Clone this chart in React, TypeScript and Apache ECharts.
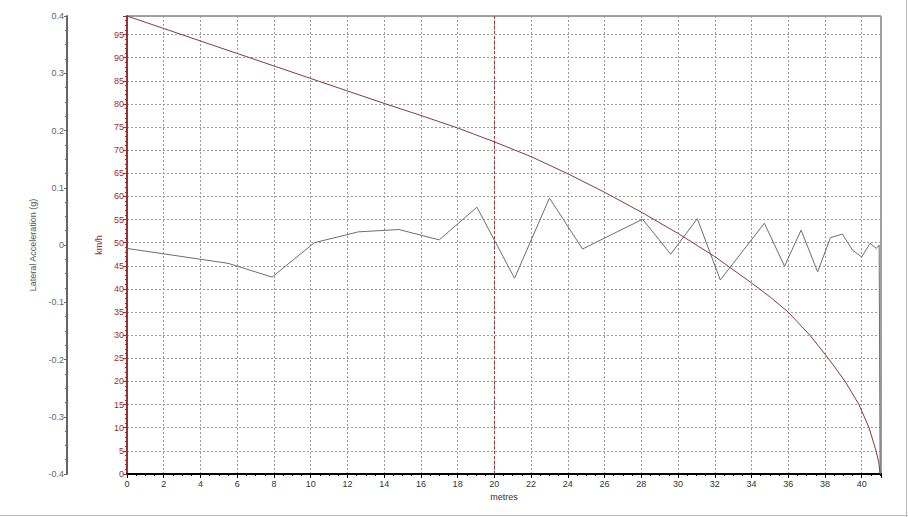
import React, { useEffect, useRef } from "react";
import * as echarts from "echarts";

// Speed (km/h) vs distance (metres)
const speedMetres = [0, 2, 4, 6, 8, 10, 12, 14, 16, 18, 20, 22, 24, 26, 28, 30, 32, 34, 35, 36, 37.18, 38.18, 39.1, 39.85, 40.4, 40.78, 40.93, 41.0];
const speedKmh = [99, 96.3, 93.6, 90.9, 88.2, 85.5, 82.8, 80.1, 77.5, 74.8, 71.8, 68.6, 64.9, 60.9, 56.6, 52, 47.0, 41.3, 38.3, 35, 30, 25, 20, 15, 10, 5, 2.5, 0];

// Lateral acceleration (g) vs distance (metres)
const latMetres = [0, 5.5, 7.9, 10.2, 12.6, 14.8, 17.0, 19.05, 21.1, 23.0, 24.8, 28.07, 29.6, 31.05, 32.3, 34.7, 35.8, 36.7, 37.6, 38.3, 38.95, 39.5, 40.0, 40.45, 40.8, 40.95, 41.0];
const latG = [-0.006, -0.032, -0.056, 0.004, 0.023, 0.027, 0.009, 0.066, -0.058, 0.082, -0.007, 0.045, -0.016, 0.046, -0.061, 0.038, -0.037, 0.026, -0.047, 0.013, 0.019, -0.009, -0.021, 0.003, -0.006, 0, -0.4];

const markerMetres = [20];

const FONT = "Liberation Sans";

export default function App() {
  const ref = useRef<HTMLDivElement>(null);
  useEffect(() => {
    if (!ref.current) return;
    const chart = echarts.init(ref.current, undefined, { renderer: "svg" });
    const grid = { left: 127, top: 16, right: 27, bottom: 43 };
    chart.setOption({
      animation: false,
      backgroundColor: "#ffffff",
      grid: { ...grid, show: true, borderColor: "#444", borderWidth: 1, backgroundColor: "transparent" },
      xAxis: {
        type: "value",
        min: 0,
        max: 41.05,
        interval: 2,
        name: "metres",
        nameLocation: "middle",
        nameGap: 17,
        nameTextStyle: { color: "#333", fontSize: 9, fontFamily: FONT },
        axisLine: { show: true, lineStyle: { color: "#000", width: 2 } },
        axisTick: { show: true, length: 4, lineStyle: { color: "#000" } },
        minorTick: { show: true, splitNumber: 4, length: 2, lineStyle: { color: "#000" } },
        axisLabel: { color: "#333", fontSize: 9, fontFamily: FONT, margin: 5, showMaxLabel: false },
        splitLine: { show: true, lineStyle: { color: "#999", type: [2, 2], width: 1 } },
      },
      yAxis: [
        {
          type: "value",
          position: "left",
          min: 0,
          max: 99,
          interval: 5,
          name: "km/h",
          nameLocation: "middle",
          nameRotate: 90,
          nameGap: 15,
          nameTextStyle: { color: "#9b3030", fontSize: 9, fontFamily: FONT },
          axisLine: { show: true, lineStyle: { color: "#9b3030", width: 2 } },
          axisTick: { show: true, length: 4, lineStyle: { color: "#9b3030" } },
          minorTick: { show: true, splitNumber: 5, length: 2, lineStyle: { color: "#9b3030" } },
          axisLabel: { color: "#9b3030", fontSize: 9, fontFamily: FONT, margin: 3, showMaxLabel: false },
          splitLine: { show: true, lineStyle: { color: "#999", type: [2, 2], width: 1 } },
        },
        {
          type: "value",
          position: "left",
          offset: 60,
          min: -0.4,
          max: 0.4,
          interval: 0.1,
          name: "Lateral Acceleration (g)",
          nameLocation: "middle",
          nameRotate: 90,
          nameGap: 22,
          nameTextStyle: { color: "#555", fontSize: 9, fontFamily: FONT },
          axisLine: { show: true, lineStyle: { color: "#666", width: 2 } },
          axisTick: { show: true, length: 3, lineStyle: { color: "#666" } },
          minorTick: { show: true, splitNumber: 4, length: 2, lineStyle: { color: "#666" } },
          axisLabel: { color: "#666", fontSize: 9, fontFamily: FONT, margin: 3 },
          splitLine: { show: false },
        },
      ],
      series: [
        {
          type: "line",
          name: "Lateral Acceleration",
          yAxisIndex: 1,
          data: latMetres.map((m, i) => [m, latG[i]]),
          showSymbol: false,
          symbol: "none",
          lineStyle: { color: "#6e6e6e", width: 1 },
          z: 3,
        },
        {
          type: "line",
          name: "Speed",
          yAxisIndex: 0,
          data: speedMetres.map((m, i) => [m, speedKmh[i]]),
          showSymbol: false,
          symbol: "none",
          smooth: false,
          lineStyle: { color: "#8a3a3a", width: 1 },
          z: 4,
          markLine: {
            silent: true,
            symbol: "none",
            label: { show: false },
            lineStyle: { color: "#a03a3a", type: [3, 2], width: 1 },
            data: markerMetres.map((m) => ({ xAxis: m })),
          },
        },
      ],
      graphic: [
        { type: "line", shape: { x1: 0, y1: 515.5, x2: 908, y2: 515.5 }, style: { stroke: "#bbb", lineWidth: 1 } },
        { type: "line", shape: { x1: 906.5, y1: 0, x2: 906.5, y2: 517 }, style: { stroke: "#bbb", lineWidth: 1 } },
      ],
    });
    return () => chart.dispose();
  }, []);
  return (
    <div
      ref={ref}
      style={{ position: "fixed", left: 0, top: 0, width: 908, height: 517, background: "#fff" }}
    />
  );
}
